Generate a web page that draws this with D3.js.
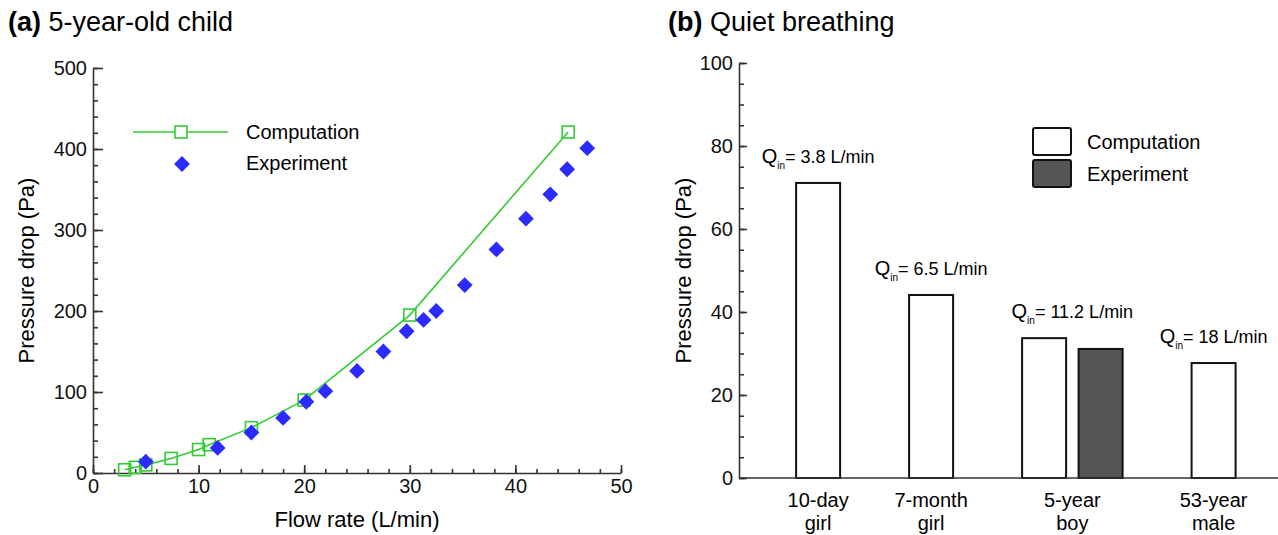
<!DOCTYPE html>
<html>
<head>
<meta charset="utf-8">
<script src="https://cdn.jsdelivr.net/npm/d3@7"></script>
<style>
  body { margin: 0; background: #fff; }
  svg { display: block; font-family: "Liberation Sans", Arial, sans-serif; }
  .axis path, .axis line { stroke: #333; stroke-width: 1.6; }
  .axis text { font-size: 20px; fill: #111; font-family: "Liberation Sans", Arial, sans-serif; }
  .narrow { font-family: "Liberation Sans Narrow", "Arial Narrow", "Liberation Sans", sans-serif; font-stretch: condensed; }
</style>
</head>
<body>
<svg id="chart" width="1278" height="535"></svg>
<script>
// (a) 5-year-old child: pressure drop vs flow rate
const flowComp = [3, 4, 5, 7.4, 10, 11, 15, 20, 30, 45];
const dpComp = [4, 7, 10, 18, 29, 35, 56, 90, 195, 421];
const flowExp = [5, 11.8, 15, 18, 20.2, 22, 25, 27.5, 29.7, 31.3, 32.5, 35.2, 38.2, 41, 43.3, 44.9, 46.8];
const dpExp = [14, 31, 50, 68, 88, 101, 126, 150, 175, 189, 200, 232, 276, 314, 344, 375, 401];
const flowTicks = [0, 10, 20, 30, 40, 50];
const dpTicks = [0, 100, 200, 300, 400, 500];

// (b) Quiet breathing: pressure drop per subject
const subjects = [["10-day", "girl"], ["7-month", "girl"], ["5-year", "boy"], ["53-year", "male"]];
const barComp = [71.1, 44.1, 33.7, 27.7];
const barExp = [null, null, 31.1, null];
const inletFlow = ["3.8", "6.5", "11.2", "18"];
const barTicks = [0, 20, 40, 60, 80, 100];

const green = '#33cc33';
const blue = '#2b2bff';
const svg = d3.select('#chart');

// ---------- panel (a) ----------
const xa = d3.scaleLinear().domain([0, 50]).range([93, 621]);
const ya = d3.scaleLinear().domain([0, 500]).range([473, 68]);

const ga = svg.append('g');

// minor ticks first, then major axis on top
ga.append('g').attr('class', 'axis').attr('transform', `translate(0,${ya(0)})`)
  .call(d3.axisBottom(xa).tickValues(d3.range(0, 51, 2)).tickSize(-4).tickFormat(''))
  .call(g => g.select('.domain').remove());
ga.append('g').attr('class', 'axis').attr('transform', `translate(${xa(0)},0)`)
  .call(d3.axisLeft(ya).tickValues(d3.range(0, 501, 20)).tickSize(-5).tickFormat(''))
  .call(g => g.select('.domain').remove());

ga.append('g').attr('class', 'axis').attr('transform', `translate(0,${ya(0)})`)
  .call(d3.axisBottom(xa).tickValues(flowTicks).tickSize(-8).tickSizeOuter(0).tickPadding(6));
ga.append('g').attr('class', 'axis').attr('transform', `translate(${xa(0)},0)`)
  .call(d3.axisLeft(ya).tickValues(dpTicks).tickSize(-10).tickSizeOuter(0).tickPadding(6));

// computation line + squares
const compPts = flowComp.map((f, i) => [f, dpComp[i]]);
const expPts = flowExp.map((f, i) => [f, dpExp[i]]);

ga.append('path')
  .datum(compPts)
  .attr('fill', 'none')
  .attr('stroke', green)
  .attr('stroke-width', 1.6)
  .attr('d', d3.line().x(d => xa(d[0])).y(d => ya(d[1])));

const sq = 12;
ga.selectAll('.sq').data(compPts).enter().append('rect')
  .attr('class', 'sq')
  .attr('x', d => xa(d[0]) - sq / 2)
  .attr('y', d => ya(d[1]) - sq / 2)
  .attr('width', sq).attr('height', sq)
  .attr('fill', 'none').attr('stroke', green).attr('stroke-width', 1.6);

const diamond = d3.symbol().type(d3.symbolSquare).size(125);
ga.selectAll('.dm').data(expPts).enter().append('path')
  .attr('class', 'dm')
  .attr('d', diamond)
  .attr('transform', d => `translate(${xa(d[0])},${ya(d[1])}) rotate(45)`)
  .attr('fill', blue);

// legend (a)
const la = ga.append('g').attr('transform', 'translate(133,132)');
la.append('line').attr('x1', 0).attr('x2', 95).attr('stroke', green).attr('stroke-width', 1.6);
la.append('rect').attr('x', 48 - sq / 2).attr('y', -sq / 2).attr('width', sq).attr('height', sq)
  .attr('fill', '#fff').attr('stroke', green).attr('stroke-width', 1.6);
la.append('path').attr('d', diamond).attr('transform', 'translate(49,32) rotate(45)').attr('fill', blue);
la.append('text').attr('x', 113).attr('y', 0).attr('dy', '0.35em').style('font-size', '20px').text('Computation');
la.append('text').attr('x', 113).attr('y', 31).attr('dy', '0.35em').style('font-size', '20px').text('Experiment');

// titles (a)
const ta = ga.append('text').attr('x', 8).attr('y', 31).style('font-size', '27px');
ta.append('tspan').style('font-weight', 'bold').text('(a)');
ta.append('tspan').text(' 5-year-old child');

ga.append('text').attr('x', (xa(0) + xa(50)) / 2).attr('y', 527)
  .attr('text-anchor', 'middle').style('font-size', '22px').text('Flow rate (L/min)');
ga.append('text').attr('transform', `translate(34,${(ya(0) + ya(500)) / 2}) rotate(-90)`)
  .attr('text-anchor', 'middle').style('font-size', '22px').text('Pressure drop (Pa)');

// ---------- panel (b) ----------
// slot layout: one slot per subject, extra half slot for the experiment bar
const bars = [];
const groupCenter = [];
let slot = 0;
subjects.forEach((s, i) => {
  const start = slot;
  bars.push({ slot, value: barComp[i], kind: 'comp' });
  if (barExp[i] != null) {
    slot += 0.5;
    bars.push({ slot, value: barExp[i], kind: 'exp' });
  }
  groupCenter.push((start + slot) / 2);
  slot += 1;
});

const xb = d3.scaleLinear().domain([-0.7, 4.07]).range([739, 1278]);
const yb = d3.scaleLinear().domain([0, 100]).range([478, 63]);
const barW = 44;

const gb = svg.append('g');

gb.append('g').attr('class', 'axis').attr('transform', `translate(${xb(-0.7)},0)`)
  .call(d3.axisLeft(yb).tickValues(d3.range(0, 101, 5)).tickSize(-5).tickFormat(''))
  .call(g => g.select('.domain').remove());
gb.append('g').attr('class', 'axis').attr('transform', `translate(${xb(-0.7)},0)`)
  .call(d3.axisLeft(yb).tickValues(barTicks).tickSize(-8).tickSizeOuter(0).tickPadding(6));

gb.selectAll('.bar').data(bars).enter().append('rect')
  .attr('class', 'bar')
  .attr('x', d => xb(d.slot) - barW / 2)
  .attr('y', d => yb(d.value))
  .attr('width', barW)
  .attr('height', d => yb(0) - yb(d.value))
  .attr('fill', d => d.kind === 'exp' ? '#555' : '#fff')
  .attr('stroke', '#111').attr('stroke-width', 2);

// x axis line drawn over bar bottoms
gb.append('line').attr('x1', xb(-0.7)).attr('x2', xb(4.07))
  .attr('y1', yb(0)).attr('y2', yb(0)).attr('stroke', '#333').attr('stroke-width', 1.6);

// category labels
subjects.forEach((s, i) => {
  const t = gb.append('text').attr('x', xb(groupCenter[i])).attr('y', 507)
    .attr('text-anchor', 'middle').style('font-size', '20px');
  t.append('tspan').attr('x', xb(groupCenter[i])).text(s[0]);
  t.append('tspan').attr('x', xb(groupCenter[i])).attr('dy', 23).text(s[1]);
});

// Q_in labels above each group
subjects.forEach((s, i) => {
  const top = d3.max(bars.filter(b => b.slot >= groupCenter[i] - 0.3 && b.slot <= groupCenter[i] + 0.3), b => b.value);
  const t = gb.append('text').attr('class', 'narrow')
    .attr('x', xb(groupCenter[i])).attr('y', yb(top) - 20)
    .attr('text-anchor', 'middle').style('font-size', '18px');
  t.append('tspan').style('font-size', '20px').text('Q');
  t.append('tspan').attr('dy', 6).style('font-size', '10px').text('in');
  t.append('tspan').attr('dy', -6).text(`= ${inletFlow[i]} L/min`);
});

// legend (b)
const lb = gb.append('g').attr('transform', 'translate(1033,128)');
[['Computation', '#fff'], ['Experiment', '#555']].forEach((d, i) => {
  lb.append('rect').attr('x', 0).attr('y', i * 32).attr('width', 38).attr('height', 27).attr('rx', 2)
    .attr('fill', d[1]).attr('stroke', '#111').attr('stroke-width', 2);
  lb.append('text').attr('x', 54).attr('y', i * 32 + 14).attr('dy', '0.35em')
    .style('font-size', '20px').text(d[0]);
});

// titles (b)
const tb = gb.append('text').attr('x', 668).attr('y', 31).style('font-size', '27px');
tb.append('tspan').style('font-weight', 'bold').text('(b)');
tb.append('tspan').text(' Quiet breathing');

gb.append('text').attr('transform', `translate(691,${(yb(0) + yb(100)) / 2}) rotate(-90)`)
  .attr('text-anchor', 'middle').style('font-size', '22px').text('Pressure drop (Pa)');
</script>
</body>
</html>
